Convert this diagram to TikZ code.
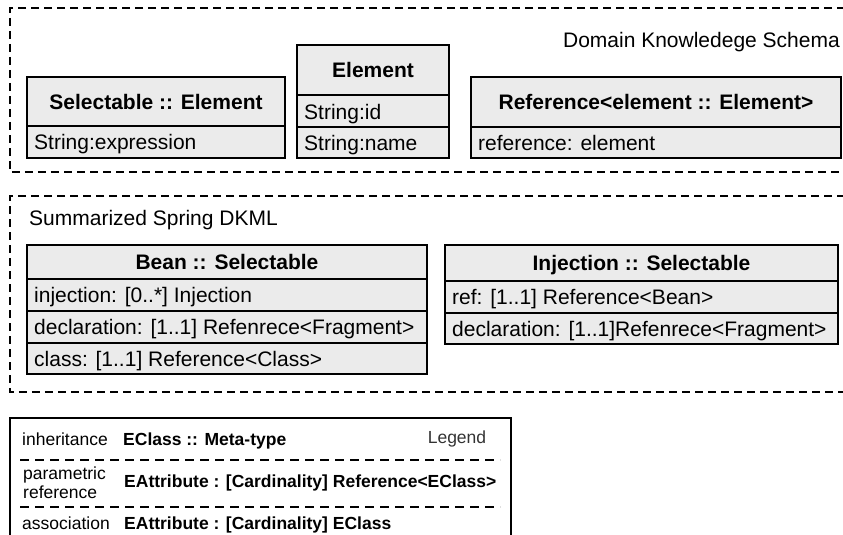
\documentclass[tikz,border=0pt]{standalone}
\usepackage{fontspec}
\setmainfont{Liberation Sans}
\definecolor{cellgray}{HTML}{EBEBEB}
\begin{document}
\begin{tikzpicture}[x=1pt,y=-1pt,
  cell/.style={draw=black, fill=cellgray, line width=1.4pt},
  hdr/.style={font=\fontsize{21}{25}\selectfont\bfseries, inner sep=0pt, text height=15pt, text depth=0pt},
  attr/.style={font=\fontsize{21}{25}\selectfont, inner sep=0pt, anchor=west, text height=15pt, text depth=0pt},
  lbl/.style={font=\fontsize{21}{25}\selectfont, inner sep=0pt, text height=15pt, text depth=0pt},
  region/.style={line width=1.4pt, dash pattern=on 8pt off 5pt},
  legsep/.style={line width=1.2pt, dash pattern=on 9pt off 6pt},
  legtxt/.style={font=\fontsize{17.5}{19}\selectfont, inner sep=0pt, anchor=west, text height=12.5pt, text depth=0pt},
  legbold/.style={font=\fontsize{17.5}{19}\selectfont\bfseries, inner sep=0pt, anchor=west, text height=12.5pt, text depth=0pt}]
\useasboundingbox (0,0) rectangle (843,535);
\begin{scope}
\clip (0,0) rectangle (843,535);
% regions
\draw[region] (845,8) -- (10,8) -- (10,172) -- (845,172);
\node[lbl, anchor=east] (domlbl) at (840,40) {Domain Knowledege Schema};
\draw[region] (845,196) -- (10,196) -- (10,392) -- (845,392);
\node[lbl, anchor=west] (sumlbl) at (29,218) {Summarized Spring DKML};

% Selectable
\draw[cell] (27,77) rectangle (285,126);
\draw[cell] (27,126) rectangle (285,158);
\node[hdr] (selh) at (156,101.5) {Selectable :: Element};
\node[attr] (sel1) at (34,142) {String:expression};

% Element
\draw[cell] (297,45) rectangle (449,95);
\draw[cell] (297,95) rectangle (449,127);
\draw[cell] (297,127) rectangle (449,158);
\node[hdr] (elh) at (373,70) {Element};
\node[attr] (el1) at (304,112) {String:id};
\node[attr] (el2) at (304,143) {String:name};

% Reference
\draw[cell] (471,77) rectangle (841,127);
\draw[cell] (471,127) rectangle (841,158);
\node[hdr] (refh) at (656,102) {Reference<element :: Element>};
\node[attr] (ref1) at (478,142.5) {reference: element};

% Bean
\draw[cell] (27,245) rectangle (427,279);
\draw[cell] (27,279) rectangle (427,311);
\draw[cell] (27,311) rectangle (427,343);
\draw[cell] (27,343) rectangle (427,374);
\node[hdr] (beanh) at (227,262) {Bean :: Selectable};
\node[attr] (bean1) at (34,295) {injection: [0..*] Injection};
\node[attr] (bean2) at (34,327) {declaration: [1..1] Refenrece<Fragment>};
\node[attr] (bean3) at (34,358.5) {class: [1..1] Reference<Class>};

% Injection
\draw[cell] (445,245) rectangle (838,281);
\draw[cell] (445,281) rectangle (838,313);
\draw[cell] (445,313) rectangle (838,344);
\node[hdr] (injh) at (641.5,263) {Injection :: Selectable};
\node[attr] (inj1) at (452,297) {ref: [1..1] Reference<Bean>};
\node[attr] (inj2) at (452,328.5) {declaration: [1..1]Refenrece<Fragment>};

% Legend
\draw[line width=1.4pt] (10,545) -- (10,418) -- (511,418) -- (511,545);
\node[legtxt] (lg1a) at (22,439) {inheritance};
\node[legbold] (lg1b) at (123,439) {EClass :: Meta-type};
\node[legtxt, anchor=center, text=black!80] (lgt) at (457,437) {Legend};
\draw[legsep] (20,460) -- (500,460);
\node[legtxt] (lg2a) at (23,473) {parametric};
\node[legtxt] (lg2c) at (23,492) {reference};
\node[legbold] (lg2b) at (124,481) {EAttribute : [Cardinality] Reference<EClass>};
\draw[legsep] (20,507) -- (500,507);
\node[legtxt] (lg3a) at (22,523) {association};
\node[legbold] (lg3b) at (124,523) {EAttribute : [Cardinality] EClass};
\end{scope}
\end{tikzpicture}
\end{document}
